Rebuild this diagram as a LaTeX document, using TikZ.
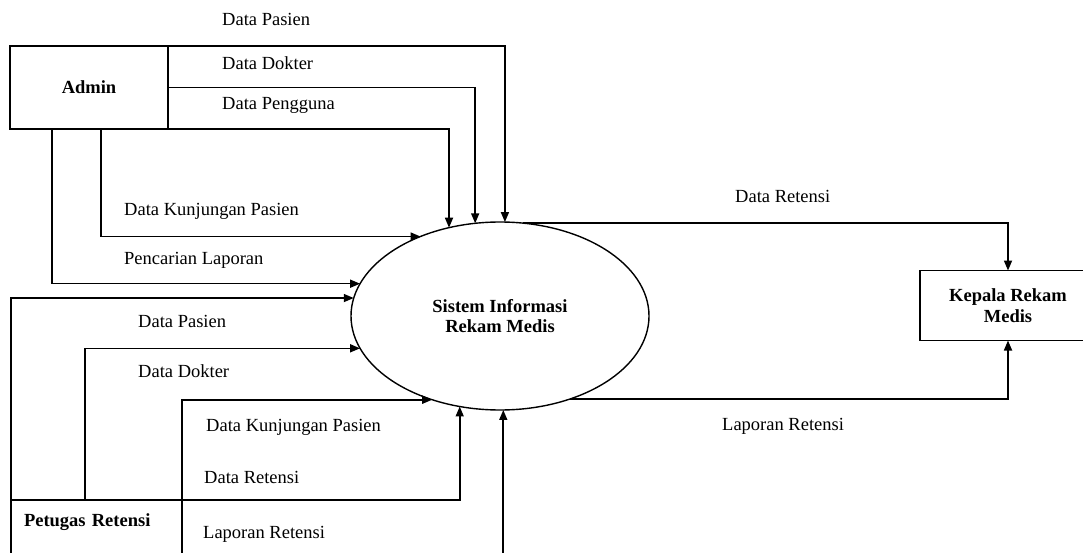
\documentclass[tikz,border=0pt]{standalone}
\usepackage{fontspec}
\setmainfont{Liberation Serif}
\usepackage{tikz}
\usetikzlibrary{shapes.geometric, arrows.meta, calc}
\newcommand{\hurufdasar}{\fontsize{18.5}{20.5}\selectfont}
\tikzset{
    entitas/.style={draw=black, line width=1.6pt, font=\hurufdasar\bfseries, align=center, inner sep=0pt, outer sep=0pt},
    proses/.style={draw=black, line width=1.4pt, ellipse, minimum width=298pt, minimum height=188pt, inner sep=0pt, outer sep=0pt, font=\hurufdasar\bfseries, align=center},
    aliran/.style={line width=1.6pt, -{Triangle[length=10pt,width=8pt]}},
    ket/.style={anchor=base west, inner sep=0pt, font=\hurufdasar}
}

\begin{document}
\begin{tikzpicture}[x=1pt, y=-1pt]
    \useasboundingbox (0,0) rectangle (1083,553);
    \node[entitas, minimum width=158pt, minimum height=83pt] (admin) at (89,87.5) {Admin};
    \node[proses] (sistem) at (500,316) {Sistem Informasi\\Rekam Medis};
    \node[entitas, minimum width=176pt, minimum height=70pt] (kepala) at (1008,305.5) {Kepala Rekam\\Medis};
    \node[entitas, anchor=north west, text width=145pt, align=left, inner xsep=13pt, inner ysep=9pt, text height=17pt, text depth=70pt] (petugas) at (11,500) {Petugas Retensi};

    \draw[aliran] (admin.north east) -| (sistem.87.6);
    \draw[aliran] (admin.east) -| (sistem.105.7);
    \draw[aliran] (admin.south east) -| (sistem.120.5);
    \draw[aliran] ([xshift=12pt]admin.south) |- (sistem.135.6);
    \draw[aliran] ([xshift=-37pt]admin.south) |- (sistem.167.1);

    \draw[aliran] (petugas.north west) |- (sistem.173.8);
    \draw[aliran] ([xshift=74pt]petugas.north west) |- (sistem.193.3);
    \draw[aliran] (petugas.north east) |- (sistem.231.5);
    \draw[aliran] (petugas.north east) -| (sistem.246.2);
    \draw[aliran] (petugas.south east) -| (sistem.272.4);

    \draw[aliran] (sistem.76.9) -| (kepala.north);
    \draw[aliran] (sistem.310.1) -| (kepala.south);

    \node[ket] (lpasien) at (222,26) {Data Pasien};
    \node[ket] (ldokter) at (222,70) {Data Dokter};
    \node[ket] (lpengguna) at (222,110) {Data Pengguna};
    \node[ket] (lkunjungan) at (124,216) {Data Kunjungan Pasien};
    \node[ket] (lpencarian) at (124,265) {Pencarian Laporan};
    \node[ket] (lpasienb) at (138,327) {Data Pasien};
    \node[ket] (ldokterb) at (138,377) {Data Dokter};
    \node[ket] (lkunjunganb) at (206,431) {Data Kunjungan Pasien};
    \node[ket] (lretensi) at (204,483) {Data Retensi};
    \node[ket] (llaporan) at (203,538) {Laporan Retensi};
    \node[ket] (lretensik) at (735,203) {Data Retensi};
    \node[ket] (llaporank) at (722,430) {Laporan Retensi};
\end{tikzpicture}
\end{document}
